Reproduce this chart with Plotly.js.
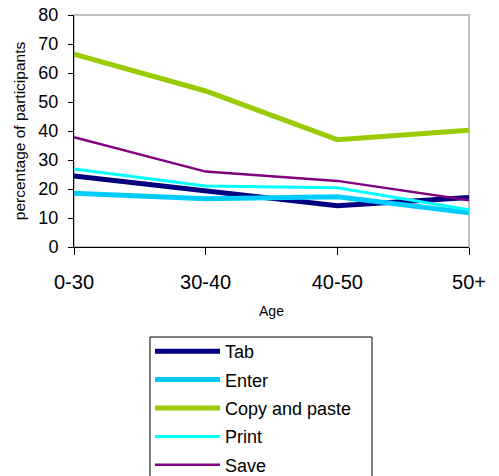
<!DOCTYPE html>
<html>
<head>
<meta charset="utf-8">
<script src="https://cdn.plot.ly/plotly-3.0.1.min.js"></script>
<style>html,body{margin:0;padding:0;background:#fff;}#chart{width:499px;height:476px;}</style>
</head>
<body>
<div id="chart"></div>
<script>
const ageGroups = ["0-30", "30-40", "40-50", "50+"];
const seriesNames = ["Tab", "Enter", "Copy and paste", "Print", "Save"];
const tabValues = [24.5, 19.4, 14.2, 17.1];
const enterValues = [18.5, 16.6, 17.3, 11.8];
const copyPasteValues = [66.5, 53.8, 37.0, 40.3];
const printValues = [26.9, 21.0, 20.4, 12.8];
const saveValues = [37.9, 26.0, 22.8, 16.1];
const yTickValues = [0, 10, 20, 30, 40, 50, 60, 70, 80];

const seriesValues = [tabValues, enterValues, copyPasteValues, printValues, saveValues];
const colors = ["#000080", "#00CCFF", "#99CC00", "#00FFFF", "#800080"];
const widths = [5, 5, 5, 3, 2.5];

const traces = seriesNames.map((name, i) => ({
  type: "scatter",
  mode: "lines",
  name: name,
  x: ageGroups,
  y: seriesValues[i],
  line: {color: colors[i], width: widths[i]},
  legendgroup: "g" + i,
  hoverinfo: "none"
}));

const FONT = "Arial, 'Liberation Sans', sans-serif";

const layout = {
  width: 499,
  height: 476,
  margin: {l: 74, r: 30, t: 15, b: 229, autoexpand: false},
  paper_bgcolor: "#ffffff",
  plot_bgcolor: "#ffffff",
  showlegend: true,
  font: {family: FONT, color: "#000"},
  xaxis: {
    type: "category",
    categoryorder: "array",
    categoryarray: ageGroups,
    range: [0, 3],
    showgrid: false,
    zeroline: false,
    showline: true,
    linecolor: "#000",
    linewidth: 1,
    ticks: "outside",
    ticklen: 7,
    tickcolor: "#000",
    tickfont: {size: 20, family: FONT, color: "#000"},
    ticklabelstandoff: 10,
    title: {text: "Age", font: {size: 14, family: FONT, color: "#000"}, standoff: 14},
    automargin: false,
    fixedrange: true
  },
  yaxis: {
    range: [0, 80],
    tickvals: yTickValues,
    showgrid: false,
    zeroline: false,
    showline: true,
    linecolor: "#000",
    linewidth: 1,
    ticks: "outside",
    ticklen: 5,
    tickcolor: "#000",
    tickfont: {size: 18, family: FONT, color: "#000"},
    ticklabelstandoff: 6,
    title: {text: "percentage of participants", font: {size: 15.5, family: FONT, color: "#000"}, standoff: 8},
    automargin: false,
    fixedrange: true
  },
  shapes: [{
    type: "rect", xref: "paper", yref: "paper",
    x0: 0, x1: 1, y0: 0, y1: 1,
    line: {color: "#C0C0C0", width: 2},
    layer: "below"
  }, {
    type: "rect", xref: "paper", yref: "paper",
    x0: 0.1924, x1: 0.7544, y0: -1.2, y1: -0.388,
    line: {color: "#000", width: 1},
    fillcolor: "rgba(0,0,0,0)",
    layer: "above"
  }],
  legend: {
    x: 0.1924, xanchor: "left",
    y: -0.3707, yanchor: "top",
    borderwidth: 0,
    bgcolor: "rgba(0,0,0,0)",
    font: {size: 18, family: FONT, color: "#000"},
    itemwidth: 65,
    tracegroupgap: 2,
    traceorder: "grouped"
  }
};

Plotly.newPlot("chart", traces, layout, {staticPlot: true, displayModeBar: false});
</script>
</body>
</html>
